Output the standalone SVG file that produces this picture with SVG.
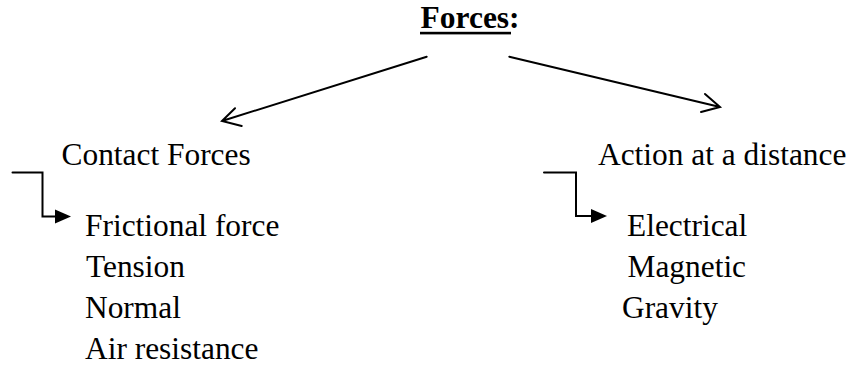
<svg xmlns="http://www.w3.org/2000/svg" width="854" height="366" viewBox="0 0 854 366">
<style>
text{font-family:"Liberation Serif","Times New Roman",serif;fill:#000}
.t{font-size:31.4px}
.title{font-size:31.5px;font-weight:bold}
.ln{fill:none;stroke:#000;stroke-width:2;stroke-linecap:round;stroke-linejoin:miter}
.hd{fill:#000;stroke:none}
</style>
<rect width="854" height="366" fill="#fff"/>
<g id="title">
<text class="title" x="420.5" y="28.3">Forces:</text>
<rect x="420" y="31.8" width="91" height="2.6" fill="#000"/>
</g>
<g id="contact">
<text class="t" x="61.5" y="165">Contact Forces</text>
</g>
<g id="action">
<text class="t" x="598" y="164.5">Action at a distance</text>
</g>
<g id="contact-list">
<text class="t" x="85" y="236">Frictional force</text>
<text class="t" x="86" y="277">Tension</text>
<text class="t" x="85" y="318">Normal</text>
<text class="t" x="85" y="359">Air resistance</text>
</g>
<g id="action-list">
<text class="t" x="627" y="236">Electrical</text>
<text class="t" x="627.5" y="277">Magnetic</text>
<text class="t" x="622" y="318">Gravity</text>
</g>
<g id="connectors">
<path class="ln" d="M426.7,56.7 L222,121 M235,108.3 L222,121 L241.7,126"/>
<path class="ln" d="M509.3,56.7 L720,107 M705,94 L720,107 L701,112"/>
<path class="ln" d="M12.5,172.5 H42.5 V216.5 H56"/>
<polygon class="hd" points="55,209.5 71,216.5 55,223.5"/>
<path class="ln" d="M544,172.5 H576 V216 H592"/>
<polygon class="hd" points="591,209 607,216 591,223"/>
</g>
</svg>
